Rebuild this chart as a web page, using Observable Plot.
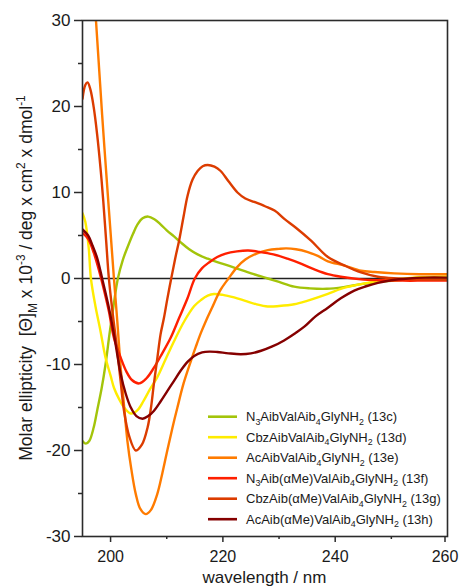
<!DOCTYPE html>
<html><head><meta charset="utf-8">
<script src="https://cdn.jsdelivr.net/npm/d3@7"></script>
<script src="https://cdn.jsdelivr.net/npm/@observablehq/plot@0.6"></script>
<style>
body{margin:0;background:#fff}
#chart{position:relative;width:459px;height:588px;overflow:hidden}
</style>
</head><body><div id="chart"></div><script>
// ---- data ----
const ids = ["13c","13d","13e","13f","13g","13h"];
const labels = [
  "N_{3}AibValAib_{4}GlyNH_{2} (13c)",
  "CbzAibValAib_{4}GlyNH_{2} (13d)",
  "AcAibValAib_{4}GlyNH_{2} (13e)",
  "N_{3}Aib(αMe)ValAib_{4}GlyNH_{2} (13f)",
  "CbzAib(αMe)ValAib_{4}GlyNH_{2} (13g)",
  "AcAib(αMe)ValAib_{4}GlyNH_{2} (13h)"
];
const colors = ["#a3c40a","#ffec00","#ff7b00","#ff1f00","#dc3c00","#850000"];

const wl_13c = [195,195.6,196.2,197,197.6,198.4,199.1,199.8,200.5,201.3,202.2,203,204,204.8,205.7,206.7,207.8,208.9,210,211.3,212.5,214,215.5,217.3,219,221,223.2,225.5,228,230,232.7,235.5,238.5,241.5,244.6,247.5,250.5,253,256,260];
const cd_13c = [-18.9,-19.2,-18.9,-17.3,-15.4,-12.8,-10,-6.5,-3.3,0,2.2,3.6,5.2,6.3,7.0,7.2,6.9,6.3,5.6,4.9,4.2,3.4,2.8,2.3,1.9,1.5,1.0,0.5,0,-0.4,-0.95,-1.15,-1.2,-1.0,-0.65,-0.4,-0.25,-0.1,0,0.1];

const wl_13d = [195,195.5,196.1,196.5,197.3,198.2,199.1,200,200.6,201.5,202.4,203.6,204.8,205.9,207,208.3,209.8,211.3,213.1,214.9,216.1,217.3,218.4,220,222,224,226,228,230,232.7,235,238.7,241,244.6,247.5,250.5,255,260];
const cd_13d = [7.6,6.6,3.6,0,-3.2,-6.1,-9.2,-11.3,-12.7,-14,-15,-15.7,-15.3,-14.2,-12.9,-11.5,-9.4,-7.3,-5.0,-3.2,-2.5,-2.0,-1.8,-1.9,-2.2,-2.6,-3.0,-3.25,-3.2,-3.0,-2.6,-1.8,-1.2,-0.65,-0.3,-0.1,0.15,0.25];

const wl_13e = [195,196,197.4,198.5,199.7,200.6,201.2,201.8,202.4,203,203.7,204.5,205.3,206.25,207.2,208.3,209.2,210.1,211,211.9,213,214.3,215.2,216.1,217,218,219.6,221,222.5,224,226,228,230,231.3,233,235,237,238.7,241.7,244.6,247,250.5,255,260];
const cd_13e = [52,42,30,19,8,0,-5,-10.4,-14.8,-18.9,-22.2,-25.1,-26.8,-27.4,-26.9,-25.1,-22.7,-20,-17.4,-15,-12.2,-9.6,-7.9,-6.3,-4.9,-3.5,-1.3,0,1.3,2.2,2.9,3.3,3.45,3.5,3.4,3.1,2.6,2.0,1.5,0.9,0.75,0.6,0.5,0.5];

const wl_13f = [195,196,197,198,199,199.7,200.6,201.8,202.8,203.8,205.1,206.4,207.7,209.2,210.7,212.2,213.7,215,216.3,217.6,219,220.5,222.5,224.5,226.5,229,231.5,234,236.5,238.7,241,244.6,248,252,256,260];
const cd_13f = [5.3,4.6,3.0,0.8,-1.8,-3.8,-6.9,-9.2,-10.8,-11.8,-12.2,-11.6,-10.4,-8.7,-6.9,-4.6,-2.3,0,1.2,1.9,2.5,2.9,3.15,3.25,3.1,2.8,2.3,1.7,1.0,0.5,0.2,-0.1,-0.2,-0.25,-0.25,-0.25];

const wl_13g = [195,195.5,195.9,196.4,197,197.6,198.2,198.7,199.2,199.7,200.4,201.2,201.8,202.4,203.3,204.5,205.6,206.6,207.2,207.7,208.3,208.9,209.5,210.1,210.8,211.5,212.2,213,213.7,214.6,215.5,216.4,217.3,218.5,219.6,221,222.6,224,225.6,227.5,229.2,231,233,235.7,238.7,241.7,244.6,247.6,251,255,260];
const cd_13g = [20.9,22.5,22.8,22.0,19.9,16.8,12.9,9.0,4.5,0,-4.2,-8.4,-12.0,-15.4,-18.3,-20.0,-19.3,-17.3,-15.0,-12.3,-9.4,-6.5,-4.6,-2.4,0,2.3,4.4,7.2,9.6,11.5,12.5,13.05,13.2,13.0,12.5,11.3,10.0,9.3,8.9,8.4,7.9,6.9,5.9,4.4,2.5,1.5,0.7,0.2,0,-0.1,-0.15];

const wl_13h = [195,196,196.8,197.6,198.5,199.7,200.6,201.8,202.7,203.6,204.6,205.7,206.7,207.7,208.9,210.1,211.3,212.5,213.7,214.9,216.3,217.6,219,221,223.2,225,226.8,228.8,230.9,233,234.5,236.5,238.7,241,243.4,245.5,247.6,250,253,256,260];
const cd_13h = [5.7,5.0,3.8,2.4,0,-3.4,-6.5,-11.1,-13.4,-15.0,-16.0,-16.3,-16.0,-15.4,-14.3,-13.1,-11.9,-10.7,-9.7,-9.0,-8.6,-8.5,-8.55,-8.7,-8.8,-8.7,-8.4,-7.9,-7.2,-6.3,-5.6,-4.4,-3.4,-2.3,-1.4,-0.9,-0.5,-0.2,0,0.1,0.1];

const yMajor = [-30,-20,-10,0,10,20,30];
const yMinor = [-25,-15,-5,5,15,25];
const xMajor = [200,220,240];
const xLast = [260];
const xMinor = [210,230,250];
const xTitle = "wavelength / nm";
const yTitle = "Molar ellipticity  [Θ]_{M} x 10^{-3} / deg x cm^{2} x dmol^{-1}";

// ---- table built from the arrays ----
const series = {"13c":[wl_13c,cd_13c],"13d":[wl_13d,cd_13d],"13e":[wl_13e,cd_13e],
                "13f":[wl_13f,cd_13f],"13g":[wl_13g,cd_13g],"13h":[wl_13h,cd_13h]};
const rows = ids.flatMap(id => series[id][0].map((w,i) => ({id, wl: w, cd: series[id][1][i]})));

const FONT = "'Liberation Sans', Arial, Helvetica, sans-serif";
const AX = "#2b2b2b";

const plot = Plot.plot({
  width: 459, height: 588,
  marginTop: 20, marginBottom: 52, marginLeft: 82, marginRight: 12,
  style: {fontFamily: FONT, fontSize: "17px", color: "#1a1a1a", background: "#fff", overflow: "visible"},
  x: {domain: [195, 260]},
  y: {domain: [-30, 30]},
  color: {domain: ids, range: colors},
  marks: [
    Plot.ruleY([0], {stroke: "#222", strokeWidth: 1.4}),
    Plot.line(rows, {x: "wl", y: "cd", z: "id", stroke: "id", strokeWidth: 2.4, curve: "catmull-rom", clip: true}),
    Plot.frame({stroke: AX, strokeWidth: 1.6}),
    Plot.axisY({ticks: yMajor, tickSize: 8, tickPadding: 4, label: null, tickFormat: d => String(d), fontSize: 17, stroke: AX, strokeWidth: 1.5}),
    Plot.axisY({ticks: yMinor, tickSize: 4, text: null, label: null, stroke: AX, strokeWidth: 1.5}),
    Plot.axisX({ticks: xMajor, tickSize: 6, tickPadding: 8, label: null, tickFormat: d => String(d), fontSize: 16, stroke: AX, strokeWidth: 1.5}),
    Plot.axisX({ticks: xLast, tickSize: 6, tickPadding: 8, label: null, tickFormat: d => String(d), fontSize: 16, dx: -2.5, stroke: AX, strokeWidth: 1.5}),
    Plot.axisX({ticks: xMinor, tickSize: 3, text: null, label: null, stroke: AX, strokeWidth: 1.5})
  ]
});
document.getElementById("chart").appendChild(plot);

// rich text helper: _{sub} and ^{sup}
function rich(textSel, str, fs) {
  const parts = str.split(/([_^]\{[^}]*\})/).filter(s => s.length);
  let shift = 0;
  for (const p of parts) {
    let target = 0, txt = p, size = fs;
    if (p.startsWith("_{")) { target = 0.28 * fs; txt = p.slice(2, -1); size = fs * 0.68; }
    else if (p.startsWith("^{")) { target = -0.42 * fs; txt = p.slice(2, -1); size = fs * 0.68; }
    textSel.append("tspan").attr("dy", target - shift).attr("font-size", size).text(txt);
    shift = target;
  }
}

const svg = d3.select(plot);
// axis titles
svg.append("text").attr("x", 264.5).attr("y", 583).attr("text-anchor", "middle")
  .attr("font-size", 17).attr("fill", "#1a1a1a").text(xTitle);
const yt = svg.append("text").attr("transform", "translate(32,278) rotate(-90)")
  .attr("text-anchor", "middle").attr("fill", "#1a1a1a").attr("font-size", 17.5)
  .style("white-space", "pre");
rich(yt, yTitle, 17.5);

// legend
const lg = svg.append("g").attr("text-anchor", "start");
ids.forEach((id, i) => {
  const y = 416.7 + i * 20.5;
  lg.append("line").attr("x1", 208).attr("x2", 237).attr("y1", y).attr("y2", y)
    .attr("stroke", colors[i]).attr("stroke-width", 2.6);
  const t = lg.append("text").attr("x", 246).attr("y", y + 4.6).attr("font-size", 13)
    .attr("text-anchor", "start").attr("fill", "#1a1a1a");
  rich(t, labels[i], 13);
});
</script></body></html>
